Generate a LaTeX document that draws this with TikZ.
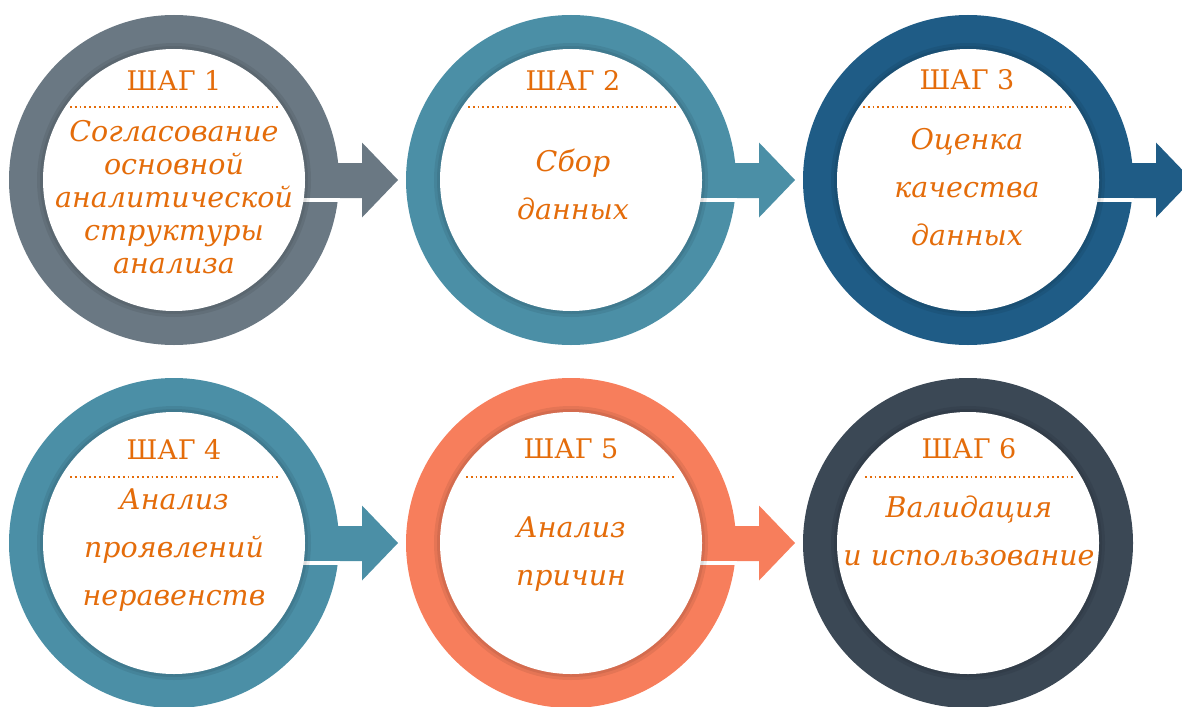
\documentclass[tikz,border=0pt]{standalone}
\usepackage{fontspec}
\setmainfont{DejaVu Serif}
\definecolor{stepgray}{HTML}{6A7883}
\definecolor{stepteal}{HTML}{4B8FA6}
\definecolor{stepblue}{HTML}{1F5C86}
\definecolor{stepcoral}{HTML}{F77E5C}
\definecolor{stepslate}{HTML}{3B4855}
\definecolor{steporange}{HTML}{E46C0A}
\tikzset{
  stepnext/.pic={
    \fill (130,-17) -- (188,-17) -- (188,-37.5) -- (224,0) -- (188,37.5) -- (188,18) -- (130,18) -- cycle;
    \fill[white] (120,18) rectangle (166,22);
  }
}
\begin{document}
\begin{tikzpicture}[x=1pt,y=-1pt,
    ring/.style={circle,minimum size=330pt,inner sep=0pt,fill=#1},
    glow/.style={circle,minimum size=#1,inner sep=0pt,fill=black,fill opacity=0.07},
    disk/.style={circle,minimum size=262pt,inner sep=0pt,fill=white},
    title/.style={text=steporange,inner sep=0pt,font=\fontsize{27}{30}\selectfont},
    body/.style={text=steporange,align=center,inner sep=0pt,font=\itshape\fontsize{28.5}{48}\selectfont},
    sep/.style={draw=steporange,line width=1.8pt,dash pattern=on 1.8pt off 3pt}]
  \clip (0,0) rectangle (1182,706);
  % first row
  \node[ring=stepgray] (s1) at (174,180) {};
  \pic[stepgray] at (s1) {stepnext};
  \node[glow=274pt] at (s1) {};
  \node[glow=268pt] at (s1) {};
  \node[disk] (w1) at (s1) {};
  \node[ring=stepteal] (s2) at (571,180) {};
  \pic[stepteal] at (s2) {stepnext};
  \node[glow=274pt] at (s2) {};
  \node[glow=268pt] at (s2) {};
  \node[disk] (w2) at (s2) {};
  \node[ring=stepblue] (s3) at (968,180) {};
  \pic[stepblue] at (s3) {stepnext};
  \node[glow=274pt] at (s3) {};
  \node[glow=268pt] at (s3) {};
  \node[disk] (w3) at (s3) {};
  % second row
  \node[ring=stepteal] (s4) at (174,543) {};
  \pic[stepteal] at (s4) {stepnext};
  \node[glow=274pt] at (s4) {};
  \node[glow=268pt] at (s4) {};
  \node[disk] (w4) at (s4) {};
  \node[ring=stepcoral] (s5) at (571,543) {};
  \pic[stepcoral] at (s5) {stepnext};
  \node[glow=274pt] at (s5) {};
  \node[glow=268pt] at (s5) {};
  \node[disk] (w5) at (s5) {};
  \node[ring=stepslate] (s6) at (968,543) {};
  \node[glow=274pt] at (s6) {};
  \node[glow=268pt] at (s6) {};
  \node[disk] (w6) at (s6) {};
  % titles and separators
  \node[title] (t1) at (174,80) {ШАГ 1};
  \node[title] (t2) at (573,80) {ШАГ 2};
  \node[title] (t3) at (967,80) {ШАГ 3};
  \node[title] (t4) at (174,449) {ШАГ 4};
  \node[title] (t5) at (571,449) {ШАГ 5};
  \node[title] (t6) at (969,449) {ШАГ 6};
  \path[sep] (70,107) -- (278,107);
  \path[sep] (468,107) -- (678,107);
  \path[sep] (863,107) -- (1071,107);
  \path[sep] (70,477) -- (278,477);
  \path[sep] (466,477) -- (674,477);
  \path[sep] (865,477) -- (1073,477);
  % step texts
  \node[body,font=\itshape\fontsize{28.5}{33}\selectfont] (d1) at (174,197) {Согласование\\основной\\аналитической\\структуры\\анализа};
  \node[body] (d2) at (573,184) {Сбор\\данных};
  \node[body] (d3) at (967,187) {Оценка\\качества\\данных};
  \node[body] (d4) at (174,550) {Анализ\\проявлений\\неравенств};
  \node[body] (d5) at (571,554) {Анализ\\причин};
  \node[body] (d6) at (969,531) {Валидация\\и использование};
\end{tikzpicture}
\end{document}
